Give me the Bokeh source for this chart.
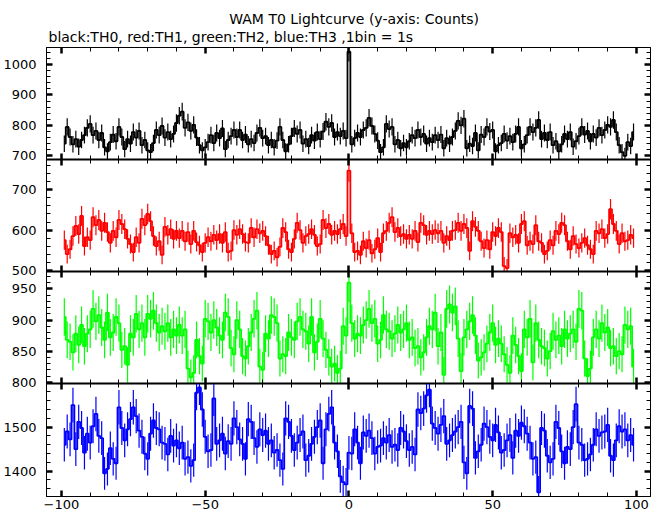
import numpy as np
from bokeh.plotting import figure
from bokeh.layouts import column
from bokeh.models import (ColumnDataSource, Range1d, LinearAxis, SingleIntervalTicker,
                          Label, CustomJSTickFormatter)
from bokeh.embed import file_html
from bokeh.resources import INLINE

# ---------------- data ----------------
time_bins = list(range(-99, 100))  # 1 s bins, T0 = 0

th0_counts = [
    740, 795, 762, 738, 755, 730, 752, 768, 792, 805,
    768, 782, 752, 775, 728, 715, 745, 770, 748, 795,
    762, 722, 755, 740, 778, 760, 782, 735, 752, 718,
    712, 742, 785, 768, 798, 760, 778, 755, 772, 808,
    832, 845, 792, 810, 782, 802, 760, 735, 718, 728,
    745, 768, 742, 775, 758, 790, 722, 752, 765, 785,
    762, 785, 752, 770, 738, 755, 742, 775, 792, 758,
    765, 735, 752, 728, 750, 795, 752, 715, 738, 765,
    790, 772, 785, 740, 755, 732, 768, 750, 778, 755,
    780, 812, 795, 808, 762, 778, 765, 782, 758, 1042,
    738, 758, 775, 762, 785, 792, 825, 798, 772, 750,
    712, 728, 805, 788, 795, 738, 752, 725, 742, 728,
    748, 768, 758, 785, 762, 772, 740, 758, 745, 768,
    752, 770, 725, 758, 740, 762, 782, 815, 800, 822,
    725, 740, 732, 775, 718, 770, 762, 795, 780, 785,
    715, 735, 742, 772, 750, 765, 745, 772, 795, 725,
    738, 768, 795, 778, 792, 818, 755, 775, 752, 778,
    735, 748, 715, 738, 772, 755, 778, 730, 748, 765,
    795, 770, 782, 748, 772, 760, 792, 768, 785, 802,
    795, 818, 778, 735, 712, 700, 745, 732, 778,
]

th1_counts = [
    575, 540, 552, 585, 610, 590, 635, 560, 582, 575,
    632, 612, 625, 598, 618, 595, 568, 598, 582, 625,
    615, 602, 578, 565, 545, 582, 568, 628, 612, 640,
    622, 585, 560, 572, 538, 608, 588, 602, 578, 598,
    580, 598, 572, 595, 565, 598, 570, 562, 545, 568,
    582, 572, 588, 575, 590, 568, 595, 545, 548, 600,
    588, 602, 590, 570, 568, 605, 582, 602, 592, 598,
    585, 562, 540, 548, 532, 558, 605, 595, 552, 545,
    578, 618, 600, 568, 585, 590, 602, 588, 560, 565,
    625, 605, 615, 588, 598, 590, 602, 615, 585, 748,
    592, 545, 548, 538, 572, 555, 575, 542, 552, 580,
    545, 592, 598, 618, 632, 595, 605, 585, 590, 578,
    588, 578, 598, 570, 618, 612, 588, 598, 590, 600,
    592, 598, 568, 585, 575, 598, 600, 618, 598, 615,
    605, 548, 622, 608, 598, 572, 555, 575, 552, 595,
    585, 605, 595, 510, 505, 592, 582, 588, 568, 615,
    622, 562, 572, 565, 612, 572, 568, 540, 548, 575,
    562, 598, 590, 618, 612, 572, 552, 585, 565, 555,
    568, 580, 562, 552, 540, 598, 592, 602, 580, 590,
    652, 615, 598, 565, 592, 572, 575, 588, 580,
]

th2_counts = [
    905, 868, 865, 848, 878, 860, 892, 858, 878, 885,
    918, 898, 908, 888, 868, 912, 872, 880, 905, 895,
    852, 858, 828, 878, 872, 910, 885, 895, 872, 910,
    902, 915, 895, 880, 890, 882, 895, 872, 885, 875,
    892, 875, 885, 822, 808, 815, 868, 842, 830, 902,
    898, 880, 900, 888, 875, 868, 912, 905, 855, 845,
    900, 885, 842, 838, 858, 880, 902, 915, 825, 820,
    878, 870, 908, 905, 895, 838, 845, 842, 880, 872,
    868, 898, 905, 885, 882, 862, 905, 848, 865, 902,
    870, 852, 840, 825, 830, 815, 822, 890, 875, 960,
    895, 870, 878, 875, 892, 900, 918, 895, 902, 862,
    868, 908, 885, 882, 870, 878, 892, 880, 885, 895,
    868, 872, 855, 858, 840, 848, 872, 890, 885, 912,
    858, 880, 812, 918, 925, 912, 922, 870, 818, 872,
    885, 898, 908, 875, 835, 840, 848, 862, 880, 895,
    860, 870, 862, 845, 828, 815, 875, 860, 842, 818,
    885, 872, 902, 832, 895, 868, 858, 855, 838, 850,
    882, 868, 875, 858, 885, 870, 878, 885, 865, 918,
    915, 838, 810, 822, 872, 885, 870, 895, 880, 888,
    855, 858, 842, 850, 845, 892, 885, 890, 825,
]

th3_counts = [
    1460, 1490, 1472, 1550, 1450, 1512, 1498, 1442, 1485, 1465,
    1502, 1530, 1480, 1475, 1395, 1405, 1452, 1428, 1418, 1545,
    1498, 1470, 1495, 1518, 1545, 1525, 1492, 1478, 1440, 1428,
    1485, 1515, 1498, 1495, 1465, 1462, 1438, 1480, 1458, 1470,
    1452, 1465, 1428, 1432, 1412, 1425, 1578, 1590, 1540, 1478,
    1445, 1448, 1565, 1462, 1470, 1485, 1440, 1468, 1462, 1520,
    1500, 1472, 1462, 1428, 1518, 1512, 1475, 1455, 1495, 1482,
    1492, 1462, 1470, 1442, 1448, 1425, 1405, 1520, 1512, 1480,
    1448, 1465, 1482, 1490, 1425, 1435, 1462, 1478, 1500, 1515,
    1418, 1495, 1530, 1545, 1465, 1445, 1388, 1375, 1370, 1442,
    1440, 1495, 1465, 1418, 1488, 1480, 1492, 1475, 1440, 1455,
    1458, 1475, 1465, 1482, 1455, 1460, 1448, 1498, 1490, 1468,
    1448, 1455, 1438, 1540, 1532, 1542, 1572, 1585, 1508, 1498,
    1485, 1505, 1525, 1462, 1470, 1482, 1490, 1500, 1512, 1420,
    1395, 1548, 1542, 1430, 1445, 1460, 1508, 1500, 1478, 1470,
    1505, 1488, 1442, 1448, 1470, 1482, 1430, 1492, 1480, 1510,
    1502, 1485, 1465, 1428, 1432, 1352, 1498, 1492, 1435, 1420,
    1428, 1512, 1498, 1445, 1418, 1455, 1450, 1500, 1552, 1465,
    1460, 1425, 1428, 1438, 1460, 1495, 1480, 1488, 1490, 1505,
    1435, 1425, 1470, 1502, 1490, 1495, 1470, 1482, 1460,
]

series_colors = ["#000000", "#ff0000", "#00ff00", "#0000ff"]
y_limits = [(688, 1056), (496.5, 776), (798, 978), (1342.5, 1599)]
y_tick_intervals = [100, 100, 50, 100]
x_tick_interval = 50
title_text = "WAM T0 Lightcurve (y-axis: Counts)"
subtitle_text = "black:TH0, red:TH1, green:TH2, blue:TH3 ,1bin = 1s"
x_label_overrides = {-100: "\u2212100", -50: "\u221250"}

# ---------------- layout constants ----------------
FIG_W = 660
LEFT = 45
RIGHT = 10
FRAME_W = FIG_W - LEFT - RIGHT
HEADER_H = 47
PANEL_H = [112, 112, 112, 113]
OVERLAP = 8          # room below panels 1-3 so their lowest tick label is not cut
BOTTOM_LABEL_H = 19
FONT = "DejaVu Sans"

x_range = Range1d(-105.2, 104.9)


def style_axis(ax, labelled):
    ax.major_tick_in = 6
    ax.major_tick_out = 0
    ax.minor_tick_in = 4
    ax.minor_tick_out = 0
    ax.major_tick_line_width = 2.5
    ax.minor_tick_line_width = 1
    ax.axis_line_width = 1
    ax.axis_line_color = "black"
    ax.major_tick_line_color = "black"
    ax.minor_tick_line_color = "black"
    if labelled:
        ax.major_label_text_font = FONT
        ax.major_label_text_font_size = "13px"
        ax.major_label_text_color = "black"
    else:
        ax.formatter = CustomJSTickFormatter(code="return ''")
        ax.major_label_text_font_size = "0px"
        ax.major_label_standoff = 0


def make_panel(values, color, ylim, yint, frame_h, idx):
    last = idx == 3
    bottom = BOTTOM_LABEL_H if last else OVERLAP
    p = figure(width=FIG_W, height=frame_h + bottom,
               x_range=x_range, y_range=Range1d(*ylim),
               x_axis_type=None, y_axis_type=None,
               output_backend="svg", toolbar_location=None,
               min_border_left=LEFT, min_border_right=RIGHT,
               min_border_top=0, min_border_bottom=bottom)
    if idx > 0:
        p.margin = (-OVERLAP, 0, 0, 0)
    p.outline_line_color = "black"
    p.outline_line_width = 1
    p.background_fill_color = None
    p.border_fill_color = None

    xt = lambda: SingleIntervalTicker(interval=x_tick_interval, num_minor_ticks=5)
    yt = lambda: SingleIntervalTicker(interval=yint, num_minor_ticks=5)

    left = LinearAxis(ticker=yt())
    style_axis(left, True)
    left.major_label_standoff = 10
    p.add_layout(left, "left")

    right = LinearAxis(ticker=yt())
    style_axis(right, False)
    p.add_layout(right, "right")

    top = LinearAxis(ticker=xt())
    style_axis(top, False)
    p.add_layout(top, "above")

    bot = LinearAxis(ticker=xt())
    if last:
        style_axis(bot, True)
        bot.major_label_standoff = 3
        bot.major_label_overrides = x_label_overrides
    else:
        style_axis(bot, False)
        bot.axis_line_width = 2   # heavier separator between stacked panels
    p.add_layout(bot, "below")

    vals = np.array(values, dtype=float)
    err = np.sqrt(vals)
    src = ColumnDataSource(dict(x=time_bins, y=vals, lo=vals - err, hi=vals + err))
    p.segment(x0="x", y0="lo", x1="x", y1="hi", source=src,
              line_color=color, line_width=1.2)
    p.step(x="x", y="y", source=src, mode="center",
           line_color=color, line_width=1.8)
    return p


header = figure(width=FIG_W, height=HEADER_H,
                x_range=Range1d(0, FRAME_W), y_range=Range1d(0, HEADER_H),
                x_axis_type=None, y_axis_type=None,
                output_backend="svg", toolbar_location=None,
                min_border_left=LEFT, min_border_right=RIGHT,
                min_border_top=0, min_border_bottom=0)
header.outline_line_color = None
header.background_fill_color = None
header.border_fill_color = None
header.add_layout(Label(x=183, y=28.5, text=title_text,
                        text_font=FONT, text_font_size="14px",
                        text_align="left", text_baseline="alphabetic",
                        text_color="black"))
header.add_layout(Label(x=2, y=11, text=subtitle_text,
                        text_font=FONT, text_font_size="14px",
                        text_align="left", text_baseline="alphabetic",
                        text_color="black"))

all_series = [th0_counts, th1_counts, th2_counts, th3_counts]
panels = []
for i, vals in enumerate(all_series):
    panels.append(make_panel(vals, series_colors[i], y_limits[i],
                             y_tick_intervals[i], PANEL_H[i], i))

layout = column(header, *panels, spacing=0)
open("out.html", "w").write(file_html(layout, INLINE))
